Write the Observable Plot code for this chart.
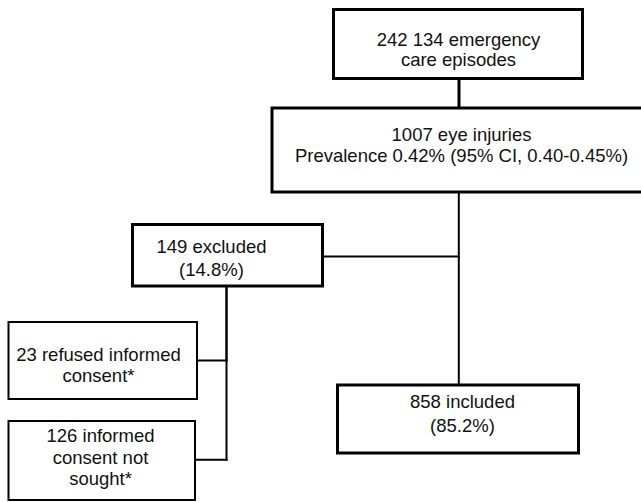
<!DOCTYPE html>
<html><head><meta charset="utf-8">
<script src="https://cdn.jsdelivr.net/npm/d3@7"></script>
<script src="https://cdn.jsdelivr.net/npm/@observablehq/plot@0.6"></script>
<style>html,body{margin:0;padding:0;background:#fff}</style>
</head><body><div id="chart"></div>
<script>
// ---- content ----
const nodeIds = ["episodes", "injuries", "excluded", "refused", "notSought", "included"];
const nodeLines = [
  ["242 134 emergency", "care episodes"],
  ["1007 eye injuries", "Prevalence 0.42% (95% CI, 0.40-0.45%)"],
  ["149 excluded", "(14.8%)"],
  ["23 refused informed", "consent*"],
  ["126 informed", "consent not", "sought*"],
  ["858 included", "(85.2%)"]
];
const edges = [
  ["episodes", "injuries"],
  ["injuries", "included"],
  ["injuries", "excluded"],
  ["excluded", "refused"],
  ["excluded", "notSought"]
];

// ---- layout (pixel geometry of the flow diagram) ----
const layout = {
  episodes:  {x1: 333.5, x2: 582.5, y1: 9.5,   y2: 78.5,  sw: 3, tx: 458, base: [45, 65]},
  injuries:  {x1: 272,   x2: 648,   y1: 108,   y2: 192,   sw: 3, tx: 461, base: [140, 161]},
  excluded:  {x1: 132.5, x2: 322.5, y1: 224.5, y2: 286,   sw: 3, tx: 211, base: [252, 275]},
  refused:   {x1: 8.5,   x2: 197,   y1: 322,   y2: 399,   sw: 2, tx: 98,  base: [360, 381.5]},
  notSought: {x1: 8.5,   x2: 195,   y1: 421,   y2: 500,   sw: 2, tx: 100, base: [441.5, 463, 484.5]},
  included:  {x1: 337.5, x2: 578.5, y1: 385,   y2: 453,   sw: 3, tx: 462, base: [407.5, 431]}
};
const edgeRoutes = {
  "episodes>injuries": {pts: [[458.5, 78.5], [458.5, 108]], sw: 3},
  "injuries>included": {pts: [[458.3, 192], [458.3, 385]], sw: 2},
  "injuries>excluded": {pts: [[458.3, 256], [322.5, 256]], sw: 2},
  "excluded>refused":  {pts: [[226, 286], [226, 360], [197, 360]], sw: 2},
  "excluded>notSought":{pts: [[226, 286], [226, 459.3], [195, 459.3]], sw: 2}
};

// ---- build tables ----
const boxes = nodeIds.map(id => ({id, ...layout[id]}));
const textRows = nodeIds.flatMap((id, i) =>
  nodeLines[i].map((t, j) => ({text: t, x: layout[id].tx, y: layout[id].base[j]})));
const segs = edges.flatMap(([a, b]) => {
  const r = edgeRoutes[a + ">" + b];
  const out = [];
  for (let k = 0; k < r.pts.length - 1; ++k)
    out.push({x1: r.pts[k][0], y1: r.pts[k][1], x2: r.pts[k + 1][0], y2: r.pts[k + 1][1], sw: r.sw});
  return out;
});

const font = "'Liberation Sans', Arial, Helvetica, sans-serif";
const chart = Plot.plot({
  width: 641,
  height: 502,
  margin: 0,
  x: {type: "identity", axis: null},
  y: {type: "identity", axis: null},
  style: {background: "#fff", fontFamily: font},
  marks: [
    Plot.link(segs, {x1: "x1", y1: "y1", x2: "x2", y2: "y2", stroke: "#000",
      strokeWidth: d => d.sw, strokeLinecap: "square"}),
    Plot.rect(boxes, {x1: "x1", x2: "x2", y1: "y1", y2: "y2", fill: "#fff", stroke: "#000",
      strokeWidth: d => d.sw}),
    Plot.text(textRows, {x: "x", y: "y", text: "text", fill: "#111", fontSize: 18.5,
      fontFamily: font, textAnchor: "middle", lineAnchor: "bottom"})
  ]
});
document.getElementById("chart").appendChild(chart);
</script>
</body></html>
